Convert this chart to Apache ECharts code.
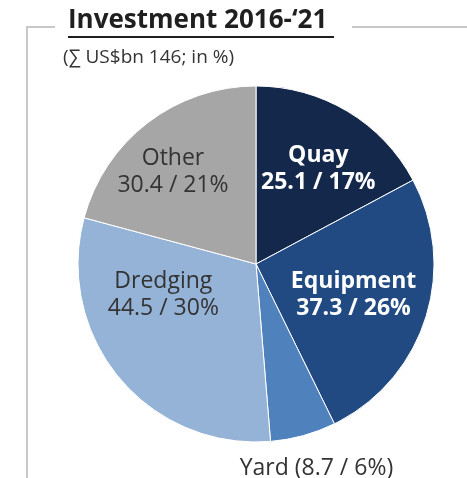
<!DOCTYPE html>
<html><head><meta charset="utf-8">
<script src="https://cdn.jsdelivr.net/npm/echarts@6/dist/echarts.min.js"></script>
<style>html,body{margin:0;padding:0;background:#fff}#c{width:467px;height:478px}</style>
</head><body><div id="c"></div>
<script>
const categories = ['Quay', 'Equipment', 'Yard', 'Dredging', 'Other'];
const values = [25.1, 37.3, 8.7, 44.5, 30.4];
const percents = [17, 26, 6, 30, 21];
const colors = ['#13284a', '#214a82', '#4f81bd', '#95b3d7', '#a6a6a6'];
const titleText = 'Investment 2016-\u201821';
const subtitleText = '(\u2211 US$bn 146; in %)';

const FONT = 'Open Sans';
const labelCfg = [
  { color: '#ffffff', fontWeight: 'bold', offset: [15, -16], inline: false },
  { color: '#ffffff', fontWeight: 'bold', offset: [10, 3], inline: false },
  { color: '#333333', fontWeight: 'normal', offset: [36, 116], inline: true },
  { color: '#333333', fontWeight: 'normal', offset: [-22, -28], inline: false },
  { color: '#333333', fontWeight: 'normal', offset: [-27, -19], inline: false }
];

const data = categories.map((name, i) => ({
  name, value: values[i],
  itemStyle: { color: colors[i] },
  label: {
    color: labelCfg[i].color,
    fontWeight: labelCfg[i].fontWeight,
    offset: labelCfg[i].offset,
    formatter: labelCfg[i].inline
      ? name + ' (' + values[i] + ' / ' + percents[i] + '%)'
      : name + '\n' + values[i] + ' / ' + percents[i] + '%'
  }
}));

const chart = echarts.init(document.getElementById('c'), null, { renderer: 'canvas' });
chart.setOption({
  animation: false,
  graphic: [
    { type: 'polyline', shape: { points: [[55, 27], [27, 27], [27, 478]] },
      style: { stroke: '#c8c8c8', lineWidth: 2, fill: null } },
    { type: 'line', shape: { x1: 352, y1: 27, x2: 467, y2: 27 },
      style: { stroke: '#c8c8c8', lineWidth: 2 } },
    { type: 'text', left: 68, top: 8,
      style: { text: titleText, font: 'bold 26px "' + FONT + '"', fill: '#1f1f1f' } },
    { type: 'line', shape: { x1: 68, y1: 37, x2: 334, y2: 37 },
      style: { stroke: '#1f1f1f', lineWidth: 2 } },
    { type: 'text', left: 63, top: 48,
      style: { text: subtitleText, font: '19px "' + FONT + '"', fill: '#333333' } }
  ],
  series: [{
    type: 'pie',
    center: [256, 264],
    radius: [0, 178],
    startAngle: 90,
    clockwise: true,
    data,
    itemStyle: { borderColor: '#ffffff', borderWidth: 1 },
    label: {
      show: true,
      position: 'inside',
      fontFamily: FONT,
      fontSize: 23,
      lineHeight: 27,
      align: 'center'
    },
    labelLine: { show: false },
    emphasis: { disabled: true }
  }]
});
</script></body></html>
